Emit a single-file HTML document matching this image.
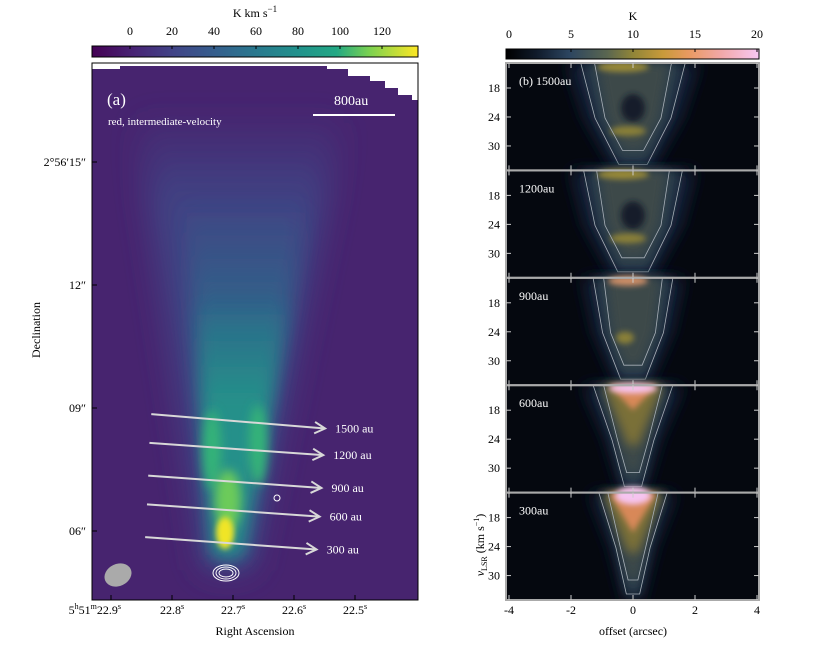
<!DOCTYPE html>
<html><head><meta charset="utf-8">
<style>
html,body{margin:0;padding:0;background:#fff;}
svg{display:block;font-family:"Liberation Serif",serif;}
</style></head>
<body>
<svg id="fig" width="830" height="646" viewBox="0 0 830 646" xmlns="http://www.w3.org/2000/svg">
<defs>
  <linearGradient id="viridis" x1="0" x2="1" y1="0" y2="0">
    <stop offset="0" stop-color="#440154"/><stop offset="0.13" stop-color="#482475"/>
    <stop offset="0.25" stop-color="#414487"/><stop offset="0.38" stop-color="#355f8d"/>
    <stop offset="0.5" stop-color="#2a788e"/><stop offset="0.63" stop-color="#21918c"/>
    <stop offset="0.75" stop-color="#22a884"/><stop offset="0.85" stop-color="#7ad151"/>
    <stop offset="1" stop-color="#fde725"/>
  </linearGradient>
  <linearGradient id="kmap" x1="0" x2="1" y1="0" y2="0">
    <stop offset="0" stop-color="#000000"/><stop offset="0.12" stop-color="#0f1a2a"/>
    <stop offset="0.25" stop-color="#2c4560"/><stop offset="0.4" stop-color="#5a6650"/>
    <stop offset="0.5" stop-color="#908538"/><stop offset="0.62" stop-color="#c89a3a"/>
    <stop offset="0.72" stop-color="#e89a60"/><stop offset="0.85" stop-color="#f2a8a8"/>
    <stop offset="1" stop-color="#f8c8f4"/>
  </linearGradient>
  <linearGradient id="gOuter" x1="0" x2="0" y1="0" y2="1">
    <stop offset="0" stop-color="#3e4c8a" stop-opacity="0"/><stop offset="0.2" stop-color="#3e4c8a" stop-opacity="0.8"/><stop offset="1" stop-color="#3e4c8a" stop-opacity="0.8"/>
  </linearGradient>
  <linearGradient id="gMid" x1="0" x2="0" y1="0" y2="1">
    <stop offset="0" stop-color="#2c6c8c" stop-opacity="0"/><stop offset="0.35" stop-color="#2c6c8c" stop-opacity="0.85"/><stop offset="1" stop-color="#2c6c8c" stop-opacity="0.9"/>
  </linearGradient>
  <linearGradient id="gIn" x1="0" x2="0" y1="0" y2="1">
    <stop offset="0" stop-color="#23958a" stop-opacity="0"/><stop offset="0.4" stop-color="#23958a" stop-opacity="0.9"/><stop offset="1" stop-color="#23958a" stop-opacity="0.9"/>
  </linearGradient>
  <filter id="b18" x="-60%" y="-60%" width="220%" height="220%"><feGaussianBlur stdDeviation="16"/></filter>
  <filter id="b12" x="-60%" y="-60%" width="220%" height="220%"><feGaussianBlur stdDeviation="10"/></filter>
  <filter id="b8" x="-60%" y="-60%" width="220%" height="220%"><feGaussianBlur stdDeviation="8"/></filter>
  <filter id="b5" x="-60%" y="-60%" width="220%" height="220%"><feGaussianBlur stdDeviation="5"/></filter>
  <filter id="b3" x="-60%" y="-60%" width="220%" height="220%"><feGaussianBlur stdDeviation="3"/></filter>
  <clipPath id="clipL"><rect x="92" y="63" width="326" height="537"/></clipPath>
  <clipPath id="clipR"><rect x="506" y="63" width="253" height="537"/></clipPath>
</defs>

<g>
  <rect x="92" y="46" width="326" height="11" fill="url(#viridis)" stroke="#000" stroke-width="1"/>
  <text x="255" y="17" font-size="12" text-anchor="middle">K km s<tspan dy="-5" font-size="9">−1</tspan></text>
  <g id="cbL"></g>
</g>

<g clip-path="url(#clipL)">
  <rect x="92" y="63" width="326" height="537" fill="#47246f"/>
  <polygon points="135,110 345,110 250,570 205,570" fill="url(#gOuter)" filter="url(#b18)"/>
  <polygon points="185,200 310,200 245,560 212,560" fill="url(#gMid)" filter="url(#b12)"/>
  <polygon points="195,300 290,300 240,555 214,555" fill="url(#gIn)" filter="url(#b8)"/>
  <ellipse cx="212" cy="450" rx="9" ry="40" fill="#35b478" filter="url(#b5)"/>
  <ellipse cx="258" cy="445" rx="9" ry="40" fill="#35b478" filter="url(#b5)"/>
  <ellipse cx="228" cy="500" rx="13" ry="30" fill="#6ccb5a" filter="url(#b5)"/>
  <ellipse cx="225" cy="533" rx="9" ry="16" fill="#f0e528" filter="url(#b3)"/>
  <polygon points="92,63 92,69 120,69 120,66 327,66 327,63" fill="#fff"/>
  <polygon points="327,63 418,63 418,100 412,100 412,95 398,95 398,88 385,88 385,81 370,81 370,76 348,76 348,69 327,69" fill="#fff"/>
  <g fill="none" stroke="#fff" stroke-width="1">
    <ellipse cx="226" cy="573" rx="13" ry="8"/><ellipse cx="226" cy="573" rx="10" ry="6"/><ellipse cx="226" cy="573" rx="7" ry="4"/>
    <circle cx="277" cy="498" r="3"/>
  </g>
  <ellipse cx="118" cy="575" rx="14" ry="11" transform="rotate(-25 118 575)" fill="#aaa"/>
  <g id="arrows"></g>
  <line x1="313" y1="115" x2="395" y2="115" stroke="#fff" stroke-width="2"/>
  <text x="334" y="105" fill="#fff" font-size="14">800au</text>
  <text x="107" y="105" fill="#fff" font-size="17">(a)</text>
  <text x="108" y="125" fill="#fff" font-size="11">red, intermediate-velocity</text>
</g>
<rect x="92" y="63" width="326" height="537" fill="none" stroke="#000" stroke-width="1"/>
<g id="axL"></g>
<text x="255" y="635" font-size="12" text-anchor="middle">Right Ascension</text>
<text x="40" y="330" font-size="12" text-anchor="middle" transform="rotate(-90 40 330)">Declination</text>

<g>
  <rect x="506" y="49" width="253" height="10" fill="url(#kmap)" stroke="#000" stroke-width="1"/>
  <text x="633" y="20" font-size="12" text-anchor="middle">K</text>
  <g id="cbR"></g>
</g>

<g id="pv" clip-path="url(#clipR)"></g>
<g id="axR"></g>
<text x="633" y="635" font-size="12" text-anchor="middle">offset (arcsec)</text>
<text x="484" y="545" font-size="12" text-anchor="middle" transform="rotate(-90 484 545)"><tspan font-style="italic">v</tspan><tspan font-size="8" dy="3">LSR</tspan><tspan dy="-3"> (km s</tspan><tspan font-size="8" dy="-5">−1</tspan><tspan dy="5">)</tspan></text>
</svg>

<script>
const NS="http://www.w3.org/2000/svg";
const cbLTicks=[0,20,40,60,80,100,120];
const cbRTicks=[0,5,10,15,20];
const raTicks=[22.9,22.8,22.7,22.6,22.5];
const decTicks=[15,12,9,6];
const decLabels=["2°56′15″","12″","09″","06″"];
const offTicks=[-4,-2,0,2,4];
const velTicks=[18,24,30];
const cutLabels=["1500 au","1200 au","900 au","600 au","300 au"];
const cutStartDec=[8.85,8.15,7.35,6.65,5.85];
const cutEndDec=[8.5,7.85,7.05,6.35,5.55];
const cutStartRA=[22.834,22.837,22.839,22.841,22.844];
const cutEndRA=[22.549,22.552,22.555,22.558,22.563];
const pvLabels=["(b) 1500au","1200au","900au","600au","300au"];
const xCbL=v=>130+v*2.1, xCbR=v=>509+v*12.4;
const xRA=v=>111+(22.9-v)*610, yDec=v=>531-(v-6)*41;
const xOff=v=>633+v*31;
const panTop=i=>63+i*107.4;
const yVel=(i,v)=>panTop(i)+25+(v-18)*4.83;

function el(tag,attrs,parent,txt){const e=document.createElementNS(NS,tag);for(const k in attrs)e.setAttribute(k,attrs[k]);if(txt!==undefined)e.textContent=txt;parent.appendChild(e);return e;}

const cbL=document.getElementById('cbL');
cbLTicks.forEach(v=>{
  const t=el('line',{x1:xCbL(v),x2:xCbL(v),y1:46,y2:49,stroke:'#000'},cbL);
  
  
  const l=el('text',{x:xCbL(v),y:35,'font-size':12,'text-anchor':'middle'},cbL,v);
  
  
});
const cbR=document.getElementById('cbR');
cbRTicks.forEach(v=>{
  const t=el('line',{x1:xCbR(v),x2:xCbR(v),y1:49,y2:52,stroke:'#000'},cbR);
  
  
  const l=el('text',{x:xCbR(v),y:38,'font-size':12,'text-anchor':'middle'},cbR,v);
  
  
});

const axL=document.getElementById('axL');
raTicks.forEach((v,i)=>{
  const x=xRA(v);
  const t=el('line',{x1:x,x2:x,y1:600,y2:595,stroke:'#000'},axL);
  
  
  const l=el('text',{x:x,y:614,'font-size':12,'text-anchor':i==0?'end':'middle'},axL);
  
  
  l.innerHTML=i==0?'5<tspan dy="-5" font-size="8">h</tspan><tspan dy="5">51</tspan><tspan dy="-5" font-size="8">m</tspan><tspan dy="5">22.9</tspan><tspan dy="-5" font-size="8">s</tspan>':(v.toFixed(1)+'<tspan dy="-5" font-size="8">s</tspan>');
  if(i==0) l.setAttribute('x',x+10);
});
decTicks.forEach((v,i)=>{
  const y=yDec(v);
  const t=el('line',{x1:92,x2:97,y1:y,y2:y,stroke:'#000'},axL);
  
  
  const l=el('text',{x:86,y:y+4,'font-size':12,'text-anchor':'end'},axL,decLabels[i]);
  
  
});

const ar=document.getElementById('arrows');
cutLabels.forEach((lab,i)=>{
  const x1=xRA(cutStartRA[i]),y1=yDec(cutStartDec[i]),x2=xRA(cutEndRA[i]),y2=yDec(cutEndDec[i]);
  const g=el('g',{},ar);
  
  
  el('line',{x1,y1,x2,y2,stroke:'#d8d8d8','stroke-width':2},g);
  const a=Math.atan2(y2-y1,x2-x1),L=12,w=0.5;
  el('polyline',{points:`${x2-L*Math.cos(a-w)},${y2-L*Math.sin(a-w)} ${x2},${y2} ${x2-L*Math.cos(a+w)},${y2-L*Math.sin(a+w)}`,fill:'none',stroke:'#d8d8d8','stroke-width':2},g);
  const t=el('text',{x:x2+10,y:y2+4,fill:'#fff','font-size':12},g,lab);
  
  
});

const pv=document.getElementById('pv'), axR=document.getElementById('axR');
const hw=[[55,40,15],[52,40,16],[42,32,13],[42,22,9],[36,18,7]];
pvLabels.forEach((lab,i)=>{
  const top=panTop(i),bot=top+107.4,c=633;
  const g=el('g',{},pv);
  
  
  el('rect',{x:506,y:top,width:253,height:107.4,fill:'#05080f'},g);
  const w=hw[i];
  const poly=(s,dy)=>`${c-w[0]*s},${top} ${c+w[0]*s},${top} ${c+w[1]*s},${top+55} ${c+w[2]*s},${bot-dy} ${c-w[2]*s},${bot-dy} ${c-w[1]*s},${top+55}`;
  el('polygon',{points:poly(1.2,0),fill:'#15243a',filter:'url(#b8)'},g);
  el('polygon',{points:poly(0.9,6),fill:'#2a3c4c',filter:'url(#b5)'},g);
  el('polygon',{points:poly(0.65,20),fill:'#3e4a48',filter:'url(#b5)'},g);
  if(i<2){
    el('ellipse',{cx:c,cy:top+45,rx:12,ry:14,fill:'#121c2a',filter:'url(#b3)'},g);
    el('ellipse',{cx:c-5,cy:top+68,rx:18,ry:5,fill:'#8a8038',filter:'url(#b3)'},g);
    el('ellipse',{cx:c-10,cy:top+4,rx:26,ry:5,fill:'#9a8a38',filter:'url(#b3)'},g);
  } else if(i==2){
    el('ellipse',{cx:c-8,cy:top+60,rx:9,ry:6,fill:'#8a8038',filter:'url(#b3)'},g);
    el('ellipse',{cx:c-5,cy:top+3,rx:20,ry:5,fill:'#d09068',filter:'url(#b3)'},g);
  } else {
    el('polygon',{points:`${c-30},${top} ${c+30},${top} ${c+5},${top+60} ${c-5},${top+60}`,fill:'#7a7038',filter:'url(#b5)'},g);
    el('polygon',{points:`${c-24},${top} ${c+24},${top} ${c},${top+(i==4?40:25)}`,fill:'#d88858',filter:'url(#b3)'},g);
    el('ellipse',{cx:c,cy:top+3,rx:i==4?18:24,ry:i==4?9:5,fill:'#f6c4f0',filter:'url(#b3)'},g);
  }
  el('polygon',{points:poly(0.95,6),fill:'none',stroke:'#a8b0b8','stroke-width':0.8},g);
  el('polygon',{points:poly(0.7,20),fill:'none',stroke:'#a8b0b8','stroke-width':0.8},g);
  const t=el('text',{x:519,y:top+22,fill:'#fff','font-size':12},g,lab);
  
  
  const f=el('rect',{x:506,y:top,width:253,height:107.4,fill:'none',stroke:'#aaa','stroke-width':2},axR);
  
  
  velTicks.forEach(v=>{
    const y=yVel(i,v);
    const tk=el('line',{x1:506,x2:511,y1:y,y2:y,stroke:'#ccc'},axR);
    
    
    el('line',{x1:754,x2:759,y1:y,y2:y,stroke:'#ccc'},axR);
    const l=el('text',{x:500,y:y+4,'font-size':12,'text-anchor':'end'},axR,v);
    
    
  });
  offTicks.forEach(v=>{
    el('line',{x1:xOff(v),x2:xOff(v),y1:top,y2:top+5,stroke:'#ccc'},axR);
    el('line',{x1:xOff(v),x2:xOff(v),y1:bot,y2:bot-5,stroke:'#ccc'},axR);
  });
});
offTicks.forEach(v=>{
  const l=el('text',{x:xOff(v),y:614,'font-size':12,'text-anchor':'middle'},axR,v<0?'-'+Math.abs(v):v);
  
  
});
</script>
</body></html>
